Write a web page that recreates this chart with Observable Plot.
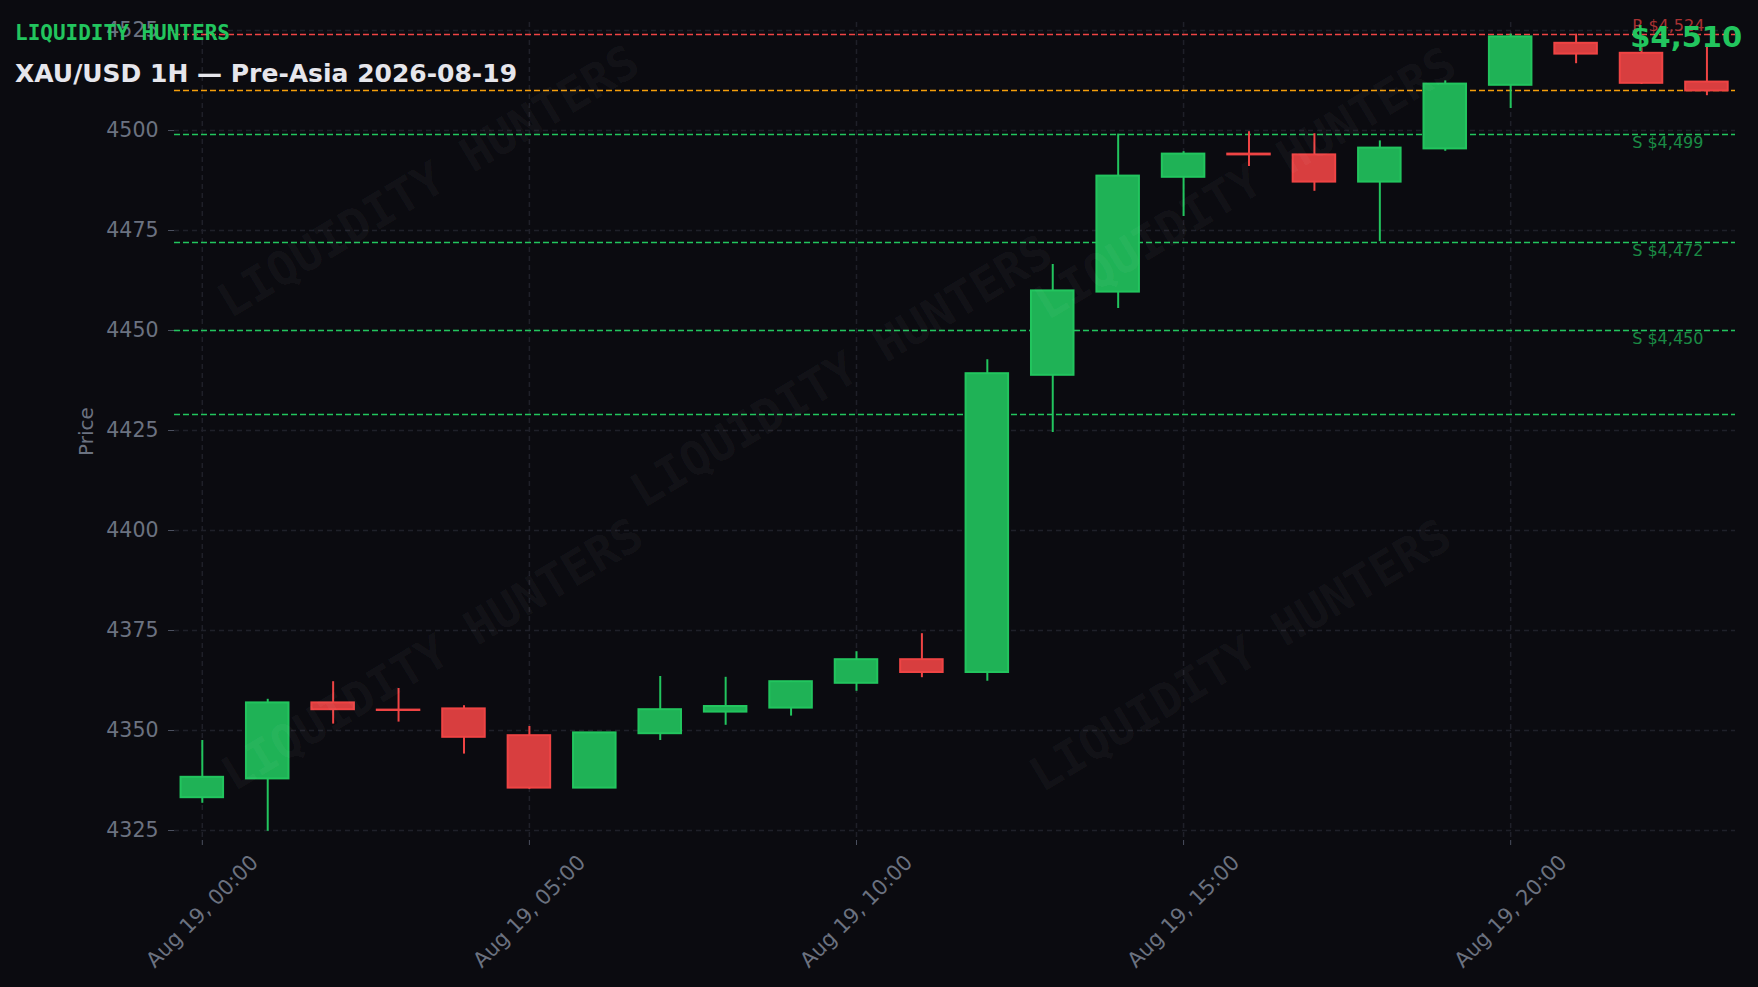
<!DOCTYPE html>
<html>
<head>
<meta charset="utf-8">
<script src="https://cdn.jsdelivr.net/npm/d3@7"></script>
<script src="https://cdn.jsdelivr.net/npm/@observablehq/plot@0.6"></script>
<style>
html, body { margin: 0; padding: 0; background: #0b0b10; }
#wrap { position: relative; width: 1758px; height: 987px; overflow: hidden; background: #0b0b10; }
#chart svg { display: block; }
.brand { position: absolute; left: 15px; top: 23px; font: bold 21px "DejaVu Sans Mono", monospace; line-height: 21px; color: #22c55e; white-space: nowrap; }
.title { position: absolute; left: 15px; top: 61px; font: bold 25px "DejaVu Sans", sans-serif; line-height: 25px; color: #e6e6ec; white-space: nowrap; }
.wm { position: absolute; font: bold 47px "DejaVu Sans Mono", monospace; color: rgba(255,255,255,0.045); transform: translate(-50%, -50%) rotate(-31deg); white-space: nowrap; pointer-events: none; }
</style>
</head>
<body>
<div id="wrap">
  <div id="chart"></div>
  <div class="wm" style="left:428px; top:181px;">LIQUIDITY HUNTERS</div>
  <div class="wm" style="left:1245px; top:183px;">LIQUIDITY HUNTERS</div>
  <div class="wm" style="left:841px; top:371px;">LIQUIDITY HUNTERS</div>
  <div class="wm" style="left:432px; top:654px;">LIQUIDITY HUNTERS</div>
  <div class="wm" style="left:1240px; top:655px;">LIQUIDITY HUNTERS</div>
  <div class="brand">LIQUIDITY HUNTERS</div>
  <div class="title">XAU/USD 1H — Pre-Asia 2026-08-19</div>
</div>
<script>
// ---- data ----
const hours = [0,1,2,3,4,5,6,7,8,9,10,11,12,13,14,15,16,17,18,19,20,21,22,23];
const open  = [4333.2,4337.9,4356.9,4355.1,4355.4,4348.7,4335.6,4349.2,4354.6,4355.6,4361.8,4367.7,4364.5,4438.8,4459.6,4488.3,4494.1,4493.9,4487.1,4495.4,4511.3,4521.8,4519.3,4512.1];
const high  = [4347.5,4357.8,4362.2,4360.5,4356.2,4351.0,4349.5,4363.5,4363.3,4362.3,4369.7,4374.2,4442.7,4466.5,4499.1,4494.7,4499.7,4499.2,4497.4,4512.4,4524.1,4524.1,4520.7,4521.5];
const low   = [4331.8,4324.8,4351.6,4352.1,4344.1,4335.3,4335.5,4347.5,4351.3,4353.6,4359.8,4363.2,4362.3,4424.5,4455.5,4478.5,4491.0,4484.8,4472.2,4494.8,4505.5,4516.7,4511.5,4508.7];
const close = [4338.3,4356.9,4355.2,4355.0,4348.3,4335.6,4349.4,4355.2,4356.0,4362.2,4367.7,4364.5,4439.2,4459.9,4488.6,4494.1,4493.9,4487.1,4495.6,4511.6,4523.4,4519.1,4511.8,4509.9];

const levelValues = [4524, 4510, 4499, 4472, 4450, 4429];
const levelKinds  = ["R", "P", "S", "S", "S", "S"];
const levelLabels = ["R $4,524", "", "S $4,499", "S $4,472", "S $4,450", ""];
const lastPriceLabel = "$4,510";

const yTicks = [4325, 4350, 4375, 4400, 4425, 4450, 4475, 4500, 4525];
const xTickHours = [0, 5, 10, 15, 20];
const yLabel = "Price";

// ---- build tables ----
const day = Date.UTC(2026, 7, 19);
const HOUR = 3600e3, MIN = 60e3;
const candles = hours.map((h, i) => ({t: new Date(day + h * HOUR), o: open[i], h: high[i], l: low[i], c: close[i]}));
const up = candles.filter(d => d.c >= d.o);
const down = candles.filter(d => d.c < d.o);
const levels = levelValues.map((v, i) => ({v, kind: levelKinds[i], label: levelLabels[i]}));
const xTicks = xTickHours.map(h => new Date(day + h * HOUR));

const GREEN = "#22c55e", GREEN_FILL = "#1fb256";
const RED = "#ef4444", RED_FILL = "#d83e3f";
const ORANGE = "#f59e0b";
const GRID = "#1f2029";
const TICKTXT = "#6b7280";
const TICKLINE = "#4b5060";
const levelColor = k => k === "R" ? RED : k === "P" ? ORANGE : GREEN;
const halfW = 19.5 * MIN;

const plot = Plot.plot({
  width: 1758,
  height: 987,
  marginLeft: 174,
  marginRight: 23,
  marginTop: 22,
  marginBottom: 147,
  style: {background: "#0b0b10", fontFamily: "DejaVu Sans", fontSize: "20.5px", color: TICKTXT},
  x: {type: "utc", domain: [new Date(day - 25.5 * MIN), new Date(day + 23 * HOUR + 26.2 * MIN)]},
  y: {domain: [4322.5, 4527]},
  marks: [
    Plot.gridY(yTicks, {stroke: GRID, strokeOpacity: 1, strokeWidth: 1.5, strokeDasharray: "5,4"}),
    Plot.gridX(xTicks, {stroke: GRID, strokeOpacity: 1, strokeWidth: 1.5, strokeDasharray: "5,4"}),
    Plot.axisY(yTicks, {tickSize: 6, tickPadding: 10, tickFormat: d3.format("d"), fill: TICKTXT, stroke: TICKLINE, label: null}),
    Plot.axisX(xTicks, {tickSize: 5, tickPadding: 66, tickRotate: -45, textAnchor: "middle", lineAnchor: "middle", fontSize: 21,
      tickFormat: d3.utcFormat("%b %d, %H:%M"), fill: TICKTXT, stroke: TICKLINE, label: null}),
    Plot.text([yLabel], {frameAnchor: "left", text: d => d, rotate: -90, dx: -88, lineAnchor: "middle", textAnchor: "middle", fill: TICKTXT, fontSize: 20}),
    // level lines
    Plot.ruleY(levels, {y: "v", stroke: d => levelColor(d.kind), strokeWidth: 1.6, strokeDasharray: "6,3"}),
    // wicks
    Plot.ruleX(up, {x: "t", y1: "l", y2: "h", stroke: GREEN, strokeWidth: 2}),
    Plot.ruleX(down, {x: "t", y1: "l", y2: "h", stroke: RED, strokeWidth: 2}),
    // bodies
    Plot.rect(up, {x1: d => new Date(+d.t - halfW), x2: d => new Date(+d.t + halfW), y1: "o", y2: "c", fill: GREEN_FILL, stroke: GREEN, strokeWidth: 2}),
    Plot.rect(down, {x1: d => new Date(+d.t - halfW), x2: d => new Date(+d.t + halfW), y1: "o", y2: "c", fill: RED_FILL, stroke: RED, strokeWidth: 2}),
    // level labels
    Plot.text(levels.filter(d => d.kind === "R" && d.label), {y: "v", text: "label", frameAnchor: "right", textAnchor: "start", dx: -103.3, dy: -3.5, lineAnchor: "bottom", fill: RED, fillOpacity: 0.7, fontSize: 16}),
    Plot.text(levels.filter(d => d.kind === "S" && d.label), {y: "v", text: "label", frameAnchor: "right", textAnchor: "start", dx: -103.3, dy: 2.5, lineAnchor: "top", fill: GREEN, fillOpacity: 0.7, fontSize: 16}),
    Plot.text([lastPriceLabel], {text: d => d, frameAnchor: "top-right", textAnchor: "end", lineAnchor: "bottom", dx: 6.7, dy: 24.5, fill: GREEN, fontSize: 29, fontWeight: "bold"})
  ]
});
document.getElementById("chart").appendChild(plot);
</script>
</body>
</html>
